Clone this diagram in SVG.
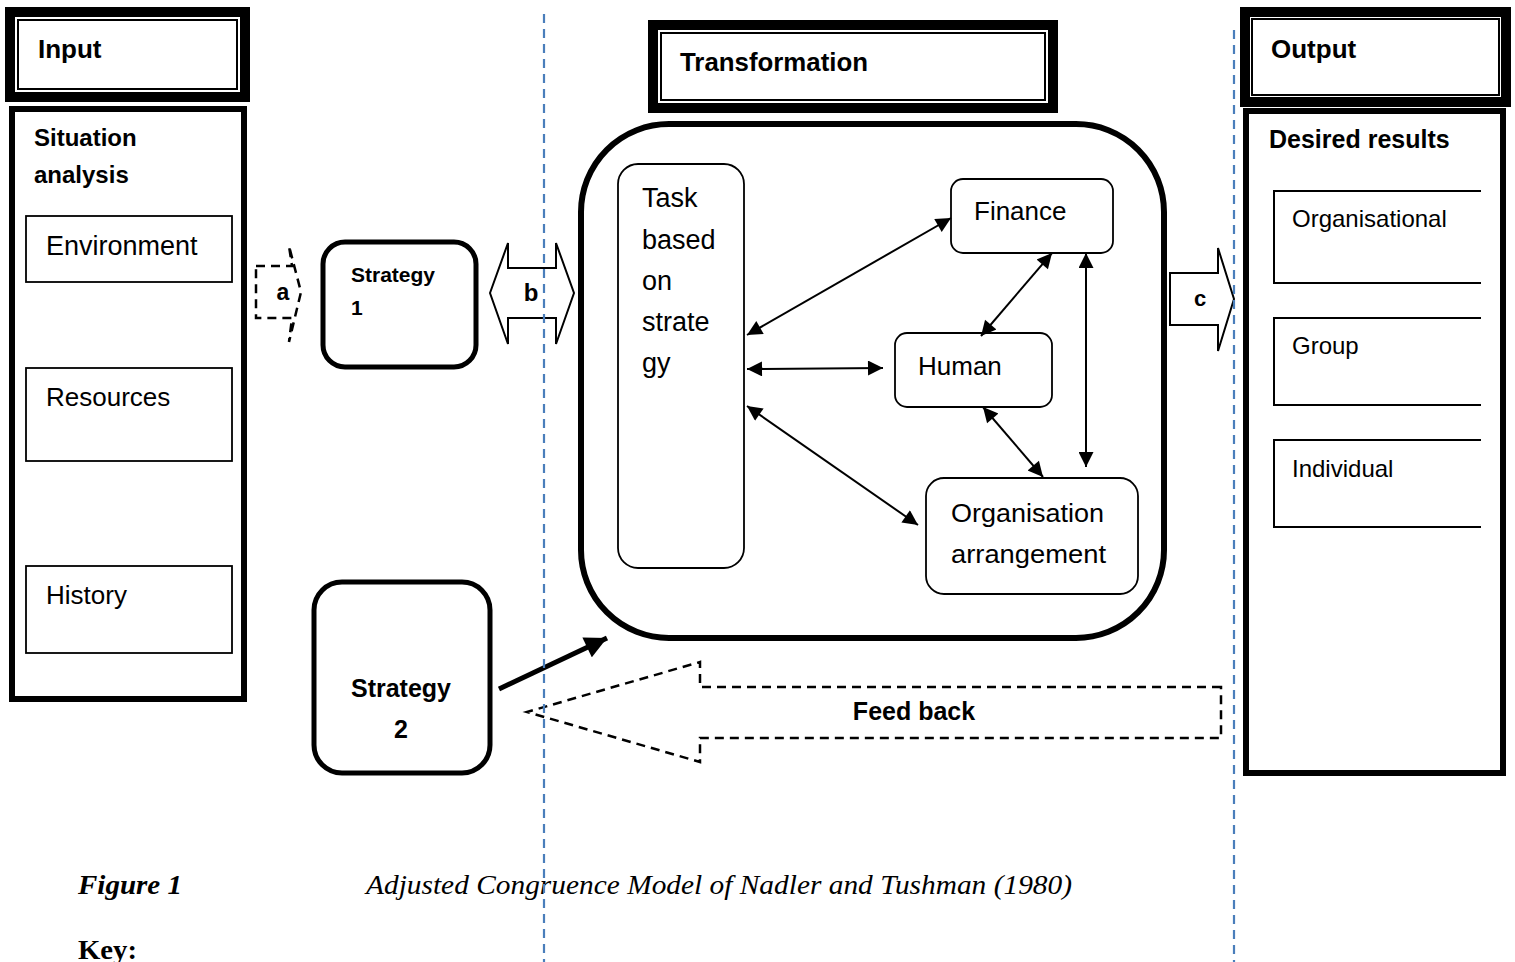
<svg xmlns="http://www.w3.org/2000/svg" width="1515" height="962" viewBox="0 0 1515 962">
<defs>
<style>
.lbl{font-family:"Liberation Sans",Arial,sans-serif;fill:#000}
.b{font-weight:bold}
.thin{fill:#fff;stroke:#000;stroke-width:1.8}
.hdr{fill:#fff;stroke:#000;stroke-width:10}
.hdrin{fill:none;stroke:#000;stroke-width:2}
.con{stroke:#000;stroke-width:2;fill:none}
.dash{fill:#fff;stroke:#000;stroke-width:2.5;stroke-dasharray:9,6}
.guide{stroke:#4A7EBB;stroke-width:2.2;stroke-dasharray:9,6}
.cap{font-family:"Liberation Serif","Times New Roman",serif;font-style:italic;fill:#000}
</style>
<marker id="ah" viewBox="0 0 10 10" refX="10" refY="5" markerUnits="userSpaceOnUse" markerWidth="19" markerHeight="15" orient="auto-start-reverse">
<path d="M0,0 L10,5 L0,10 z" fill="#000"/>
</marker>
<marker id="ahb" viewBox="0 0 10 10" refX="10" refY="5" markerUnits="userSpaceOnUse" markerWidth="24" markerHeight="22" orient="auto">
<path d="M0,0 L10,5 L0,10 z" fill="#000"/>
</marker>
</defs>
<rect width="1515" height="962" fill="#fff"/>

<g id="input-header">
<rect class="hdr" x="10" y="12" width="235" height="85"/>
<rect class="hdrin" x="18" y="20" width="219" height="69"/>
<text class="lbl b" x="38" y="58" font-size="26">Input</text>
</g>

<g id="situation-analysis">
<rect fill="#fff" stroke="#000" stroke-width="6" x="12" y="109" width="232" height="590"/>
<text class="lbl b" x="34" y="146" font-size="24">Situation</text>
<text class="lbl b" x="34" y="183" font-size="24">analysis</text>
</g>
<g id="environment">
<rect class="thin" x="26" y="216" width="206" height="66"/>
<text class="lbl" x="46" y="255" font-size="27">Environment</text>
</g>
<g id="resources">
<rect class="thin" x="26" y="368" width="206" height="93"/>
<text class="lbl" x="46" y="406" font-size="26">Resources</text>
</g>
<g id="history">
<rect class="thin" x="26" y="566" width="206" height="87"/>
<text class="lbl" x="46" y="604" font-size="26">History</text>
</g>

<g id="arrow-a">
<path class="dash" d="M256,266 L292,266 L289,246 L301,292 L289,342 L292,318 L256,318 Z"/>
<text class="lbl b" x="283" y="300" font-size="23" text-anchor="middle">a</text>
</g>

<g id="strategy-1">
<rect fill="#fff" stroke="#000" stroke-width="5" x="323" y="242" width="153" height="125" rx="22"/>
<text class="lbl b" x="351" y="282" font-size="21">Strategy</text>
<text class="lbl b" x="351" y="315" font-size="21">1</text>
</g>

<g id="arrow-b">
<path fill="#fff" stroke="#000" stroke-width="2" d="M490,293 L508,243 L508,268 L556,268 L556,243 L574,293 L556,344 L556,318 L508,318 L508,344 Z"/>
<text class="lbl b" x="531" y="301" font-size="24" text-anchor="middle">b</text>
</g>

<g id="transformation-header">
<rect class="hdr" x="653" y="25" width="400" height="83"/>
<rect class="hdrin" x="661" y="33" width="384" height="67"/>
<text class="lbl b" x="680" y="71" font-size="25" textLength="188" lengthAdjust="spacingAndGlyphs">Transformation</text>
</g>

<g id="transformation">
<rect fill="#fff" stroke="#000" stroke-width="6" x="581" y="124" width="583" height="514" rx="88"/>
</g>

<g id="task">
<rect class="thin" x="618" y="164" width="126" height="404" rx="20"/>
<text class="lbl" x="642" y="207" font-size="27">Task</text>
<text class="lbl" x="642" y="249" font-size="27">based</text>
<text class="lbl" x="642" y="290" font-size="27">on</text>
<text class="lbl" x="642" y="331" font-size="27">strate</text>
<text class="lbl" x="642" y="372" font-size="27">gy</text>
</g>
<g id="finance">
<rect class="thin" x="951" y="179" width="162" height="74" rx="12"/>
<text class="lbl" x="974" y="220" font-size="26">Finance</text>
</g>
<g id="human">
<rect class="thin" x="895" y="333" width="157" height="74" rx="12"/>
<text class="lbl" x="918" y="375" font-size="26">Human</text>
</g>
<g id="organisation-arrangement">
<rect class="thin" x="926" y="478" width="212" height="116" rx="18"/>
<text class="lbl" x="951" y="522" font-size="26" textLength="153" lengthAdjust="spacingAndGlyphs">Organisation</text>
<text class="lbl" x="951" y="563" font-size="26" textLength="155" lengthAdjust="spacingAndGlyphs">arrangement</text>
</g>

<g id="arrow-c">
<path fill="#fff" stroke="#000" stroke-width="2" d="M1170,273 L1218,273 L1218,248 L1234,299 L1218,351 L1218,325 L1170,325 Z"/>
<text class="lbl b" x="1200" y="306" font-size="22" text-anchor="middle">c</text>
</g>

<g id="output-header">
<rect class="hdr" x="1245" y="12" width="261" height="90"/>
<rect class="hdrin" x="1252" y="19" width="247" height="76"/>
<text class="lbl b" x="1271" y="58" font-size="26">Output</text>
</g>

<g id="desired-results">
<rect fill="#fff" stroke="#000" stroke-width="6" x="1246" y="111" width="257" height="662"/>
<text class="lbl b" x="1269" y="148" font-size="25">Desired results</text>
</g>
<g id="organisational">
<path class="con" d="M1481,191 L1274,191 L1274,283 L1481,283"/>
<text class="lbl" x="1292" y="227" font-size="24">Organisational</text>
</g>
<g id="group">
<path class="con" d="M1481,318 L1274,318 L1274,405 L1481,405"/>
<text class="lbl" x="1292" y="354" font-size="24">Group</text>
</g>
<g id="individual">
<path class="con" d="M1481,440 L1274,440 L1274,527 L1481,527"/>
<text class="lbl" x="1292" y="477" font-size="24">Individual</text>
</g>

<g id="strategy-2">
<rect fill="#fff" stroke="#000" stroke-width="5" x="314" y="582" width="176" height="191" rx="28"/>
<text class="lbl b" x="401" y="697" font-size="25" text-anchor="middle">Strategy</text>
<text class="lbl b" x="401" y="738" font-size="25" text-anchor="middle">2</text>
</g>

<g id="feedback">
<path class="dash" d="M1221,687 L700,687 L700,662 L527,712 L700,762 L700,738 L1221,738 Z"/>
<text class="lbl b" x="914" y="720" font-size="25" text-anchor="middle">Feed back</text>
</g>

<g id="connectors">
<line class="con" x1="747" y1="335" x2="951" y2="218" marker-start="url(#ah)" marker-end="url(#ah)"/>
<line class="con" x1="747" y1="369" x2="883" y2="368" marker-start="url(#ah)" marker-end="url(#ah)"/>
<line class="con" x1="747" y1="406" x2="918" y2="525" marker-start="url(#ah)" marker-end="url(#ah)"/>
<line class="con" x1="1052" y1="253" x2="981" y2="336" marker-start="url(#ah)" marker-end="url(#ah)"/>
<line class="con" x1="1086" y1="253" x2="1086" y2="467" marker-start="url(#ah)" marker-end="url(#ah)"/>
<line class="con" x1="983" y1="407" x2="1043" y2="477" marker-start="url(#ah)" marker-end="url(#ah)"/>
<line stroke="#000" stroke-width="5" x1="499" y1="689" x2="607" y2="638" marker-end="url(#ahb)"/>
</g>

<g id="captions">
<text class="cap" x="78" y="894" font-size="27" font-weight="bold" textLength="104" lengthAdjust="spacingAndGlyphs">Figure 1</text>
<text class="cap" x="366" y="894" font-size="27" textLength="706" lengthAdjust="spacingAndGlyphs">Adjusted Congruence Model of Nadler and Tushman (1980)</text>
<text x="78" y="959" font-family="Liberation Serif,'Times New Roman',serif" font-weight="bold" font-size="27" textLength="59" lengthAdjust="spacingAndGlyphs">Key:</text>
</g>

<g id="guides">
<line class="guide" x1="544" y1="14" x2="544" y2="962"/>
<line class="guide" x1="1234" y1="30" x2="1234" y2="962"/>
</g>
</svg>
